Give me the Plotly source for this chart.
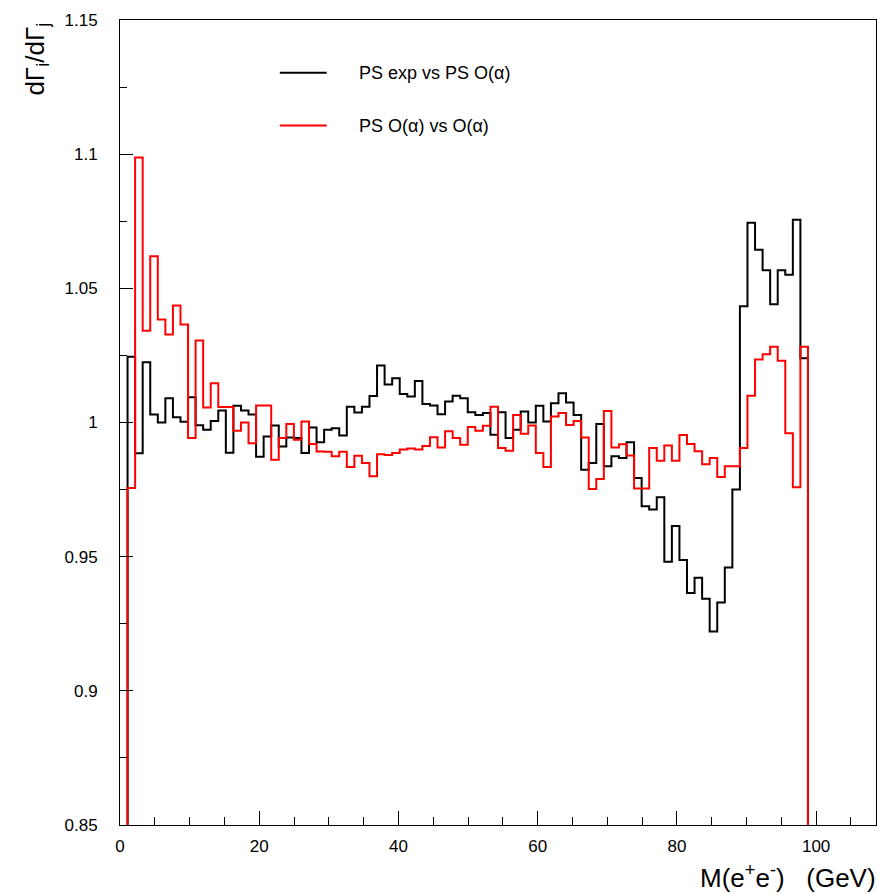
import plotly.graph_objects as go

# Histogram definition: 100 bins starting at 0 GeV
n_bins = 100
bin_width = 1.086
x_max = 108.6

# Ratio "PS exp vs PS O(alpha)" (black), bins 1..90 (others are 0)
black_vals = [
    1.0245, 0.9885, 1.0225, 1.0030, 1.0000, 1.0090, 1.0020, 1.0003, 1.0094, 0.9990,
    0.9973, 1.0006, 1.0045, 0.9887, 1.0062, 1.0045, 1.0030, 0.9872, 0.9948, 0.9989,
    0.9911, 0.9944, 0.9942, 0.9886, 0.9981, 0.9926, 0.9973, 0.9979, 0.9952, 1.0059,
    1.0037, 1.0059, 1.0099, 1.0212, 1.0142, 1.0165, 1.0106, 1.0097, 1.0155, 1.0069,
    1.0063, 1.0031, 1.0078, 1.0100, 1.0090, 1.0038, 1.0028, 1.0035, 0.9954, 1.0038,
    0.9942, 0.9973, 1.0041, 1.0000, 1.0062, 1.0004, 1.0072, 1.0109, 1.0075, 1.0028,
    0.9824, 0.9849, 0.9994, 0.9837, 0.9874, 0.9868, 0.9926, 0.9793, 0.9688, 0.9676,
    0.9721, 0.9481, 0.9614, 0.9488, 0.9365, 0.9421, 0.9343, 0.9221, 0.9329, 0.9460,
    0.9750, 1.0433, 1.0744, 1.0644, 1.0567, 1.0441, 1.0567, 1.0551, 1.0756, 1.0239,
]

# Ratio "PS O(alpha) vs O(alpha)" (red), bins 1..90
red_vals = [
    0.9756, 1.0988, 1.0342, 1.0620, 1.0384, 1.0328, 1.0436, 1.0365, 0.9942, 1.0306,
    1.0056, 1.0146, 1.0058, 1.0058, 0.9969, 1.0000, 0.9923, 1.0063, 1.0063, 0.9861,
    0.9942, 0.9994, 0.9936, 1.0004, 0.9920, 0.9892, 0.9891, 0.9874, 0.9891, 0.9834,
    0.9876, 0.9849, 0.9800, 0.9882, 0.9879, 0.9886, 0.9899, 0.9903, 0.9899, 0.9912,
    0.9945, 0.9907, 0.9967, 0.9942, 0.9917, 0.9983, 0.9969, 0.9988, 1.0059, 0.9905,
    0.9895, 1.0028, 0.9958, 0.9989, 0.9886, 0.9834, 1.0022, 1.0035, 0.9991, 1.0006,
    0.9944, 0.9752, 0.9789, 1.0043, 0.9907, 0.9919, 0.9877, 0.9754, 0.9754, 0.9905,
    0.9857, 0.9914, 0.9857, 0.9953, 0.9920, 0.9893, 0.9844, 0.9868, 0.9797, 0.9837,
    0.9837, 0.9905, 1.0100, 1.0235, 1.0254, 1.0282, 1.0230, 0.9960, 0.9759, 1.0282,
]

first_bin = 1
series_names = ["PS exp vs PS O(α)", "PS O(α) vs O(α)"]
series_colors = ["#000000", "#ff0000"]

y_tickvals = [0.85, 0.9, 0.95, 1.0, 1.05, 1.1, 1.15]
y_ticktext = ["0.85", "0.9", "0.95", "1", "1.05", "1.1", "1.15"]
x_tickvals = [0, 20, 40, 60, 80, 100]
x_ticktext = ["0", "20", "40", "60", "80", "100"]


def full_hist(vals):
    h = [0.0] * n_bins
    for i, v in enumerate(vals):
        h[first_bin + i] = v
    return h


edges = [i * bin_width for i in range(n_bins + 1)]

fig = go.Figure()
for vals, name, col in zip([black_vals, red_vals], series_names, series_colors):
    h = full_hist(vals)
    fig.add_trace(go.Scatter(
        x=edges, y=h + [h[-1]], mode="lines", line=dict(color=col, width=2, shape="hv"),
        name=name, showlegend=False, hoverinfo="skip"))

FONT = "Liberation Sans, Arial, Helvetica, sans-serif"

W, H = 888, 893
L, R, T, B = 120, 877, 17, 825
pw, ph = R - L, B - T


def px_x(p):
    return (p - L) / pw


def px_y(p):
    return (B - p) / ph


# Legend drawn as line samples + labels
leg_rows = [70, 123]
shapes = []
annotations = []
for name, col, yy in zip(series_names, series_colors, leg_rows):
    shapes.append(dict(type="line", xref="paper", yref="paper",
                       x0=px_x(280), x1=px_x(327), y0=px_y(yy), y1=px_y(yy),
                       line=dict(color=col, width=2)))
    annotations.append(dict(text=name, xref="paper", yref="paper", x=px_x(357), y=px_y(yy),
                            xanchor="left", yanchor="middle", showarrow=False,
                            font=dict(family=FONT, size=18, color="black")))

annotations.append(dict(text="M(e<sup>+</sup>e<sup>-</sup>)   (GeV)", xref="paper", yref="paper",
                        x=px_x(879), y=px_y(877), xanchor="right", yanchor="middle",
                        showarrow=False, font=dict(family=FONT, size=26, color="black")))
annotations.append(dict(text="dΓ<sub>i</sub>/dΓ<sub>j</sub>", xref="paper", yref="paper",
                        x=px_x(36), y=px_y(18), xanchor="center", yanchor="top",
                        textangle=-90, showarrow=False,
                        font=dict(family=FONT, size=26, color="black")))

fig.update_layout(
    width=W, height=H,
    margin=dict(l=L, r=W - R, t=T, b=H - B, pad=0),
    paper_bgcolor="white", plot_bgcolor="white",
    font=dict(family=FONT, size=17, color="black"),
    shapes=shapes, annotations=annotations,
    showlegend=False,
)
fig.update_xaxes(
    range=[0, x_max], showgrid=False, zeroline=False,
    showline=True, linecolor="black", linewidth=1, mirror=True,
    ticks="inside", ticklen=14, tickwidth=1, tickcolor="black",
    tickvals=x_tickvals, ticktext=x_ticktext, ticklabelstandoff=6,
    minor=dict(ticks="inside", ticklen=8, dtick=5, tick0=0, tickcolor="black", showgrid=False),
)
fig.update_yaxes(
    range=[0.85, 1.15], showgrid=False, zeroline=False,
    showline=True, linecolor="black", linewidth=1, mirror=True,
    ticks="inside", ticklen=13, tickwidth=1, tickcolor="black",
    tickvals=y_tickvals, ticktext=y_ticktext, ticklabelstandoff=18,
    minor=dict(ticks="inside", ticklen=7, dtick=0.025, tick0=0.85, tickcolor="black", showgrid=False),
)

fig.write_html("out.html")
